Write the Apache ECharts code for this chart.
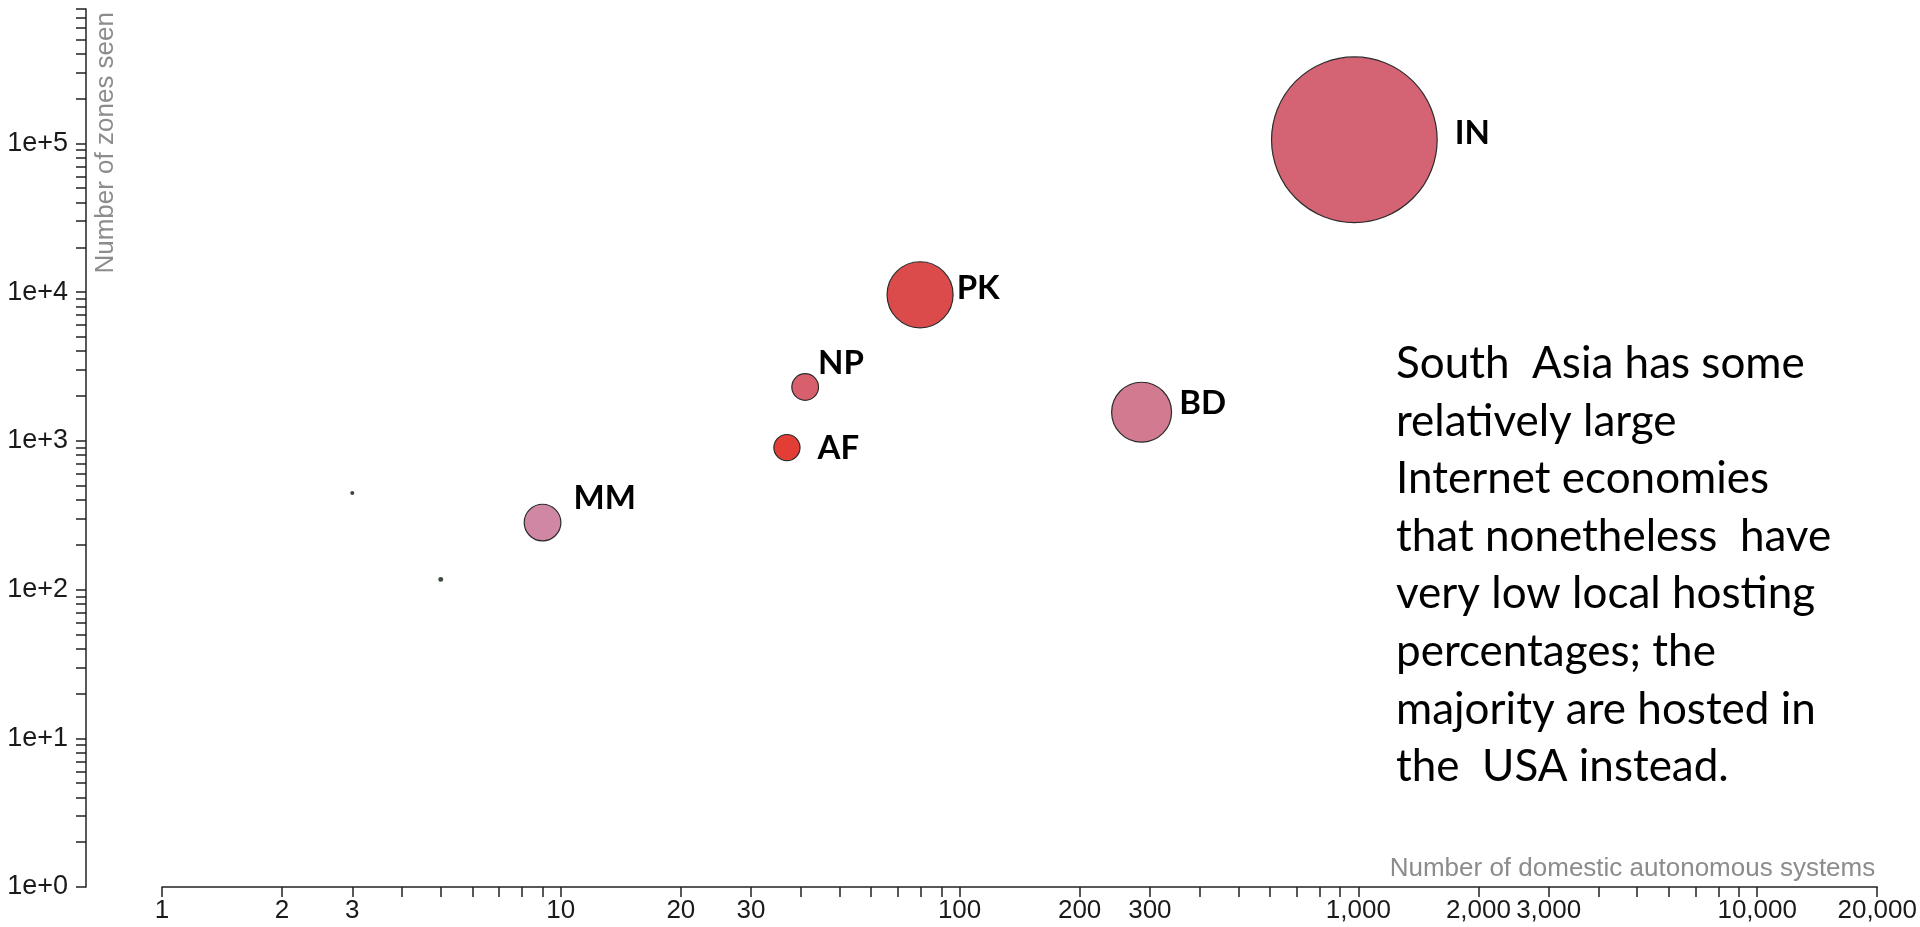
<!DOCTYPE html>
<html>
<head>
<meta charset="utf-8">
<script src="https://cdn.jsdelivr.net/npm/echarts@6/dist/echarts.min.js"></script>
<style>
html,body{margin:0;padding:0;background:#ffffff;}
#chart{width:1920px;height:927px;}
</style>
</head>
<body>
<div id="chart"></div>
<script>
// ---- data ----
const codes        = ['IN', 'PK', 'BD', 'NP', 'AF', 'MM', 'BT', 'MV'];
const shownLabels  = ['IN', 'PK', 'BD', 'NP', 'AF', 'MM', '', ''];
const domesticAS   = [977, 79.6, 286, 41, 36.9, 9.0, 3.0, 5.0];
const zonesSeen    = [105700, 9590, 1556, 2300, 900, 282, 446, 117];
const bubbleWeight = [1000, 159, 131, 26, 25, 49, 0.6, 0.9];

const xTickLabels = [1, 2, 3, 10, 20, 30, 100, 200, 300, 1000, 2000, 3000, 10000, 20000];
const yTickLabels = [1, 10, 100, 1000, 10000, 100000];
const xMin = 1, xMax = 20000;
const yMin = 1, yMax = 800000;

const annotation = [
  'South  Asia has some',
  'relatively large',
  'Internet economies',
  'that nonetheless  have',
  'very low local hosting',
  'percentages; the',
  'majority are hosted in',
  'the  USA instead.'
];

// ---- styles (kept separate from data) ----
const bubbleColor = {
  IN: '#d46473', PK: '#dc4b4b', BD: '#d27a90', NP: '#d85f6c',
  AF: '#e33e36', MM: '#cf87a4', BT: '#4a4048', MV: '#3d4a3d'
};
const labelPlace = {
  IN: {distance: 17, offset: [0, -6]},
  PK: {distance: 3,  offset: [0, -6]},
  BD: {distance: 7,  offset: [0, -9]},
  NP: {distance: -1, offset: [0, -24]},
  AF: {distance: 17, offset: [0, 1]},
  MM: {distance: 12, offset: [0, -24]}
};

// tick positions: 1..9 x 10^k inside range
function logTicks(min, max) {
  const out = [];
  for (let p = 1; p <= max; p *= 10) {
    for (let m = 1; m <= 9; m++) {
      const v = m * p;
      if (v >= min && v <= max) out.push(v);
    }
  }
  return out;
}

const data = codes.map((c, i) => {
  const lp = labelPlace[c];
  return {
    name: c,
    value: [domesticAS[i], zonesSeen[i], bubbleWeight[i]],
    itemStyle: {color: bubbleColor[c], borderColor: '#2b2b2b', borderWidth: lp ? 1.2 : 0, opacity: 1},
    label: lp ? {
      show: true, position: 'right', distance: lp.distance, offset: lp.offset,
      formatter: shownLabels[i]
    } : {show: false}
  };
});

const chart = echarts.init(document.getElementById('chart'), null, {renderer: 'canvas'});

const tickFont = '"Liberation Sans Narrow", "Liberation Sans", Arial, sans-serif';
const titleFont = '"Liberation Sans", Arial, sans-serif';
chart.setOption({
  animation: false,
  backgroundColor: '#ffffff',
  grid: {left: 162, right: 41, top: 9, bottom: 40, containLabel: false},
  xAxis: {
    type: 'log', logBase: 10, min: xMin, max: xMax,
    name: 'Number of domestic autonomous systems',
    nameLocation: 'end', nameGap: -2,
    nameTextStyle: {color: '#8c8c8c', fontFamily: titleFont, fontSize: 26, align: 'right', verticalAlign: 'bottom', padding: [0, 0, 5, 0]},
    axisLine: {show: true, onZero: false, lineStyle: {color: '#222', width: 1.5}},
    axisTick: {show: true, length: 10, lineStyle: {color: '#222', width: 1.5}, customValues: logTicks(xMin, xMax).concat([xMax])},
    axisLabel: {
      show: true, margin: 11, color: '#1a1a1a', fontFamily: tickFont, fontSize: 26,
      customValues: xTickLabels,
      formatter: v => Math.round(v).toLocaleString('en-US')
    },
    splitLine: {show: false}
  },
  yAxis: {
    type: 'log', logBase: 10, min: yMin, max: yMax, offset: 76,
    name: 'Number of zones seen',
    nameLocation: 'end', nameGap: -3, nameRotate: 90,
    nameTextStyle: {color: '#8c8c8c', fontFamily: titleFont, fontSize: 26, align: 'right', verticalAlign: 'top', padding: [7, 0, 0, 0]},
    axisLine: {show: true, onZero: false, lineStyle: {color: '#222', width: 1.5}},
    axisTick: {show: true, length: 10, lineStyle: {color: '#222', width: 1.5}, customValues: logTicks(yMin, yMax)},
    axisLabel: {
      show: true, margin: 18, color: '#1a1a1a', fontFamily: tickFont, fontSize: 27,
      customValues: yTickLabels,
      formatter: v => '1e+' + Math.round(Math.log10(v))
    },
    splitLine: {show: false}
  },
  series: [{
    type: 'scatter',
    data: data,
    symbol: 'circle',
    symbolSize: val => 165.6 * Math.sqrt(val[2] / 1000),
    label: {color: '#000', fontFamily: 'Lato', fontWeight: 'bold', fontSize: 33},
    emphasis: {disabled: true}
  }],
  graphic: [{
    type: 'text',
    left: 1396, top: 335,
    style: {
      text: annotation.join('\n'),
      fontFamily: 'Lato', fontSize: 44, lineHeight: 57.6, fill: '#000'
    }
  }]
});
</script>
</body>
</html>
